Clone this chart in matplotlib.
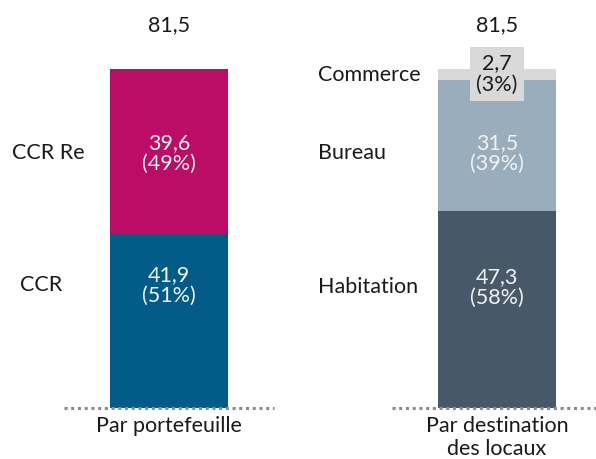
import matplotlib.pyplot as plt

plt.rcParams['font.family'] = ['Lato', 'DejaVu Sans']

# data
groups = ['Par portefeuille', 'Par destination\ndes locaux']
left_names = ['CCR', 'CCR Re']
left_values = [41.9, 39.6]
left_pcts = ['51%', '49%']
right_names = ['Habitation', 'Bureau', 'Commerce']
right_values = [47.3, 31.5, 2.7]
right_pcts = ['58%', '39%', '3%']
totals = ['81,5', '81,5']

left_colors = ['#025a87', '#bb0d65']
right_colors = ['#475968', '#9aadbc', '#d9d9d9']

# layout (text placement, in data units)
left_text_y = [29.5, 61.3]
right_text_y = [29.0, 61.3, 80.3]
left_name_x = [-0.454, -0.479]
right_name_x = [0.454, 0.454, 0.454]

fig = plt.figure(figsize=(5.96, 4.59), dpi=100)
ax = fig.add_axes([0, 0, 1, 1])
ax.set_xlim(-0.515, 1.302)
ax.set_ylim(-12.26, 98.08)
ax.axis('off')

width = 0.36
fs = 15.5


def fmt(v):
    return f'{v:.1f}'.replace('.', ',')


def stack(x, names, values, pcts, colors, text_y, name_x):
    bottom = 0
    for i, v in enumerate(values):
        ax.bar(x, v, width=width, bottom=bottom, color=colors[i], linewidth=0)
        label = f'{fmt(v)}\n({pcts[i]})'
        if v < 5:
            ax.text(x, text_y[i], label, ha='center', va='center', fontsize=fs,
                    color='#1a1a1a', linespacing=1.05,
                    bbox=dict(boxstyle='square,pad=0.3', fc=colors[i], ec='none'))
            name_y = bottom + v / 2
        else:
            ax.text(x, text_y[i], label, ha='center', va='center', fontsize=fs,
                    color='#f2f2f2', linespacing=1.05)
            name_y = text_y[i]
        ax.text(name_x[i], name_y, names[i], ha='left', va='center', fontsize=fs,
                color='#1a1a1a')
        bottom += v
    ax.plot([x - 0.32, x + 0.32], [0, 0], linestyle=(0, (1, 1.2)), color='#8c8c8c',
            linewidth=2.2, solid_capstyle='butt')


stack(0, left_names, left_values, left_pcts, left_colors, left_text_y, left_name_x)
stack(1, right_names, right_values, right_pcts, right_colors, right_text_y, right_name_x)

for i, t in enumerate(totals):
    ax.text(i, 92.1, t, ha='center', va='center', fontsize=fs, color='#1a1a1a')
    ax.text(i, -2.0, groups[i], ha='center', va='top', fontsize=fs,
            color='#1a1a1a', linespacing=1.15)

fig.savefig('out.png', dpi=100)
